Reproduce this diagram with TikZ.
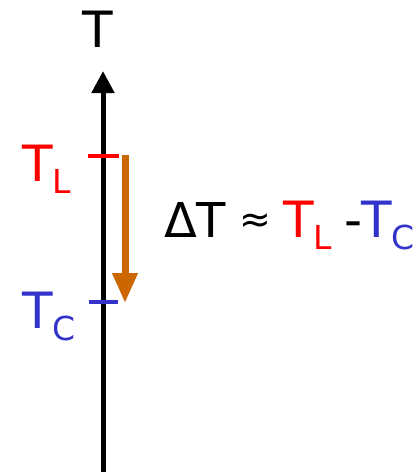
\documentclass[tikz,border=0pt]{standalone}
\usepackage{fontspec}
\setmainfont{DejaVu Sans}
\usetikzlibrary{arrows.meta}
\definecolor{tred}{HTML}{FF0000}
\definecolor{tblue}{HTML}{3333CC}
\definecolor{torange}{HTML}{CC6600}
\newcommand{\bigf}{\fontsize{50}{60}\selectfont}
\newcommand{\subf}[1]{\raisebox{-12pt}{\fontsize{33}{40}\selectfont #1}}
\begin{document}
\begin{tikzpicture}[x=1pt,y=-1pt,
  lbl/.style={inner sep=0pt,outer sep=0pt,anchor=base west,font=\bigf},
  tick/.style={line width=4pt}]
\useasboundingbox (0,0) rectangle (420,472);
\coordinate (axb) at (103,472);
\coordinate (axt) at (103,71);
\draw[line width=5pt,-{Triangle[length=22pt,width=22pt]}] (axb) -- (axt);
\node[lbl,anchor=base] (T) at (98,47) {T};
\coordinate (tl1) at (88,156);
\coordinate (tl2) at (119,156);
\draw[tick,tred] (tl1) -- (tl2);
\coordinate (tc1) at (89,302);
\coordinate (tc2) at (118,302);
\draw[tick,tblue] (tc1) -- (tc2);
\node[lbl,tred] (TL) at (22,181) {T\subf{L}};
\node[lbl,tblue] (TC) at (22,328) {T\subf{C}};
\coordinate (oa) at (125,155);
\coordinate (ob) at (125,303);
\draw[torange,line width=7pt,-{Triangle[length=30pt,width=24pt]}] (oa) -- (ob);
\node[lbl,font=\fontsize{48}{56}\selectfont] (dT) at (164,237) {ΔT};
\node[inner sep=0pt,font=\fontsize{38}{46}\selectfont] (approx) at (255,223) {≈};
\node[lbl,tred] (eTL) at (283,237) {T\subf{L}};
\node[lbl] (minus) at (344,237) {-};
\node[lbl,tblue] (eTC) at (361,237) {T\subf{C}};
\end{tikzpicture}
\end{document}
